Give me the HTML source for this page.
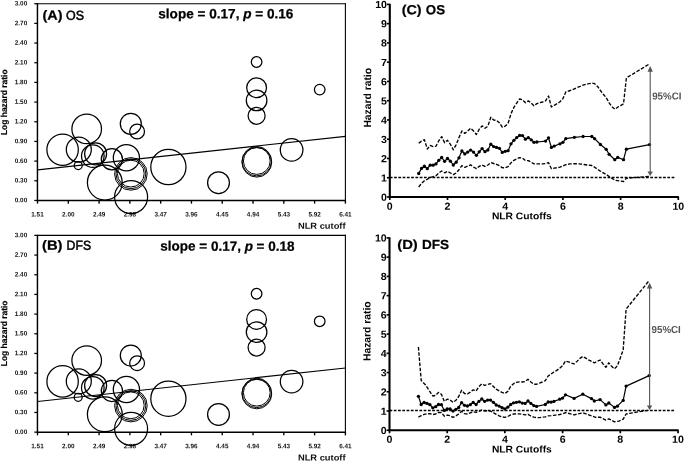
<!DOCTYPE html>
<html lang="en"><head><meta charset="utf-8"><title>NLR cutoff analysis</title>
<style>
html,body{margin:0;padding:0;background:#fff;}
body{width:685px;height:461px;overflow:hidden;}
svg{display:block;}
text{font-family:"Liberation Sans", Arial, Helvetica, sans-serif;fill:#111;}
.tk{font-size:6.5px;font-weight:bold;}
.tk2{font-size:10.3px;font-weight:bold;fill:#000;}
.axl{font-size:8.6px;font-weight:bold;}
.axl2{font-size:9.7px;font-weight:bold;fill:#000;}
.axl4{font-size:8.7px;font-weight:bold;fill:#000;stroke:#000;stroke-width:0.15px;}
.axl3{font-size:10.4px;font-weight:bold;fill:#000;}
.ttl{font-size:13.4px;font-weight:bold;fill:#000;stroke:#000;stroke-width:0.25px;}
.ttl2{font-size:13px;font-weight:normal;fill:#000;stroke:#000;stroke-width:0.5px;}
.ttl3{font-size:13.2px;font-weight:bold;fill:#000;stroke:#000;stroke-width:0.2px;}
.ci{font-size:10.2px;font-weight:bold;fill:#555;}
.dash{fill:none;stroke:#000;stroke-width:1.35;stroke-dasharray:3.6 1.6;stroke-linejoin:round;}
.ctr{fill:none;stroke:#000;stroke-width:1.2;stroke-linejoin:round;}
</style></head>
<body>
<svg width="685" height="461" viewBox="0 0 685 461">
<rect x="0" y="0" width="685" height="461" fill="#fff"/>
<line x1="37.45" y1="3.15" x2="37.45" y2="201.20" stroke="#000" stroke-width="1.45"/>
<line x1="36.8" y1="200.45" x2="345.95" y2="200.45" stroke="#000" stroke-width="1.5"/>
<line x1="36.8" y1="3.70" x2="345.95" y2="3.70" stroke="#000" stroke-width="1.1"/>
<line x1="345.4" y1="3.15" x2="345.4" y2="201.20" stroke="#000" stroke-width="1.1"/>
<line x1="34.3" y1="3.70" x2="37.5" y2="3.70" stroke="#000" stroke-width="1.25"/>
<text transform="translate(27.20 5.50) rotate(0.03)" class="tk" text-anchor="end" textLength="12.4" lengthAdjust="spacingAndGlyphs">3.00</text>
<line x1="34.3" y1="23.38" x2="37.5" y2="23.38" stroke="#000" stroke-width="1.25"/>
<text transform="translate(27.20 25.18) rotate(0.03)" class="tk" text-anchor="end" textLength="12.4" lengthAdjust="spacingAndGlyphs">2.70</text>
<line x1="34.3" y1="43.05" x2="37.5" y2="43.05" stroke="#000" stroke-width="1.25"/>
<text transform="translate(27.20 44.85) rotate(0.03)" class="tk" text-anchor="end" textLength="12.4" lengthAdjust="spacingAndGlyphs">2.40</text>
<line x1="34.3" y1="62.73" x2="37.5" y2="62.73" stroke="#000" stroke-width="1.25"/>
<text transform="translate(27.20 64.53) rotate(0.03)" class="tk" text-anchor="end" textLength="12.4" lengthAdjust="spacingAndGlyphs">2.10</text>
<line x1="34.3" y1="82.40" x2="37.5" y2="82.40" stroke="#000" stroke-width="1.25"/>
<text transform="translate(27.20 84.20) rotate(0.03)" class="tk" text-anchor="end" textLength="12.4" lengthAdjust="spacingAndGlyphs">1.80</text>
<line x1="34.3" y1="102.08" x2="37.5" y2="102.08" stroke="#000" stroke-width="1.25"/>
<text transform="translate(27.20 103.88) rotate(0.03)" class="tk" text-anchor="end" textLength="12.4" lengthAdjust="spacingAndGlyphs">1.50</text>
<line x1="34.3" y1="121.75" x2="37.5" y2="121.75" stroke="#000" stroke-width="1.25"/>
<text transform="translate(27.20 123.55) rotate(0.03)" class="tk" text-anchor="end" textLength="12.4" lengthAdjust="spacingAndGlyphs">1.20</text>
<line x1="34.3" y1="141.42" x2="37.5" y2="141.42" stroke="#000" stroke-width="1.25"/>
<text transform="translate(27.20 143.22) rotate(0.03)" class="tk" text-anchor="end" textLength="12.4" lengthAdjust="spacingAndGlyphs">0.90</text>
<line x1="34.3" y1="161.10" x2="37.5" y2="161.10" stroke="#000" stroke-width="1.25"/>
<text transform="translate(27.20 162.90) rotate(0.03)" class="tk" text-anchor="end" textLength="12.4" lengthAdjust="spacingAndGlyphs">0.60</text>
<line x1="34.3" y1="180.78" x2="37.5" y2="180.78" stroke="#000" stroke-width="1.25"/>
<text transform="translate(27.20 182.58) rotate(0.03)" class="tk" text-anchor="end" textLength="12.4" lengthAdjust="spacingAndGlyphs">0.30</text>
<line x1="34.3" y1="200.45" x2="37.5" y2="200.45" stroke="#000" stroke-width="1.25"/>
<text transform="translate(27.20 202.25) rotate(0.03)" class="tk" text-anchor="end" textLength="12.4" lengthAdjust="spacingAndGlyphs">0.00</text>
<line x1="37.50" y1="200.45" x2="37.50" y2="203.65" stroke="#000" stroke-width="1.35"/>
<text transform="translate(37.50 216.55) rotate(0.03)" class="tk" text-anchor="middle" textLength="12.4" lengthAdjust="spacingAndGlyphs">1.51</text>
<line x1="68.29" y1="200.45" x2="68.29" y2="203.65" stroke="#000" stroke-width="1.35"/>
<text transform="translate(68.29 216.55) rotate(0.03)" class="tk" text-anchor="middle" textLength="12.4" lengthAdjust="spacingAndGlyphs">2.00</text>
<line x1="99.08" y1="200.45" x2="99.08" y2="203.65" stroke="#000" stroke-width="1.35"/>
<text transform="translate(99.08 216.55) rotate(0.03)" class="tk" text-anchor="middle" textLength="12.4" lengthAdjust="spacingAndGlyphs">2.49</text>
<line x1="129.87" y1="200.45" x2="129.87" y2="203.65" stroke="#000" stroke-width="1.35"/>
<text transform="translate(129.87 216.55) rotate(0.03)" class="tk" text-anchor="middle" textLength="12.4" lengthAdjust="spacingAndGlyphs">2.98</text>
<line x1="160.66" y1="200.45" x2="160.66" y2="203.65" stroke="#000" stroke-width="1.35"/>
<text transform="translate(160.66 216.55) rotate(0.03)" class="tk" text-anchor="middle" textLength="12.4" lengthAdjust="spacingAndGlyphs">3.47</text>
<line x1="191.45" y1="200.45" x2="191.45" y2="203.65" stroke="#000" stroke-width="1.35"/>
<text transform="translate(191.45 216.55) rotate(0.03)" class="tk" text-anchor="middle" textLength="12.4" lengthAdjust="spacingAndGlyphs">3.96</text>
<line x1="222.24" y1="200.45" x2="222.24" y2="203.65" stroke="#000" stroke-width="1.35"/>
<text transform="translate(222.24 216.55) rotate(0.03)" class="tk" text-anchor="middle" textLength="12.4" lengthAdjust="spacingAndGlyphs">4.45</text>
<line x1="253.03" y1="200.45" x2="253.03" y2="203.65" stroke="#000" stroke-width="1.35"/>
<text transform="translate(253.03 216.55) rotate(0.03)" class="tk" text-anchor="middle" textLength="12.4" lengthAdjust="spacingAndGlyphs">4.94</text>
<line x1="283.82" y1="200.45" x2="283.82" y2="203.65" stroke="#000" stroke-width="1.35"/>
<text transform="translate(283.82 216.55) rotate(0.03)" class="tk" text-anchor="middle" textLength="12.4" lengthAdjust="spacingAndGlyphs">5.43</text>
<line x1="314.61" y1="200.45" x2="314.61" y2="203.65" stroke="#000" stroke-width="1.35"/>
<text transform="translate(314.61 216.55) rotate(0.03)" class="tk" text-anchor="middle" textLength="12.4" lengthAdjust="spacingAndGlyphs">5.92</text>
<line x1="345.40" y1="200.45" x2="345.40" y2="203.65" stroke="#000" stroke-width="1.35"/>
<text transform="translate(345.40 216.55) rotate(0.03)" class="tk" text-anchor="middle" textLength="12.4" lengthAdjust="spacingAndGlyphs">6.41</text>
<text transform="translate(297.90 228.80) rotate(0.03)" class="axl" textLength="47.7" lengthAdjust="spacingAndGlyphs">NLR cutoff</text>
<text transform="translate(7.10 135.10) rotate(-89.97)" class="axl4" textLength="65.7" lengthAdjust="spacingAndGlyphs">Log hazard ratio</text>
<text transform="translate(42.50 19.70) rotate(0.03)" class="ttl" textLength="20" lengthAdjust="spacingAndGlyphs">(A)</text>
<text transform="translate(66.00 19.70) rotate(0.03)" class="ttl2" textLength="18.0" lengthAdjust="spacingAndGlyphs">OS</text>
<text transform="translate(158.30 18.20) rotate(0.03)" class="ttl" textLength="135.1" lengthAdjust="spacingAndGlyphs">slope = 0.17, <tspan font-style="italic">p</tspan> = 0.16</text>
<line x1="37.7" y1="169.80" x2="345.4" y2="136.30" stroke="#000" stroke-width="1.2"/>
<circle cx="256.6" cy="62.00" r="5.3" fill="none" stroke="#000" stroke-width="1.25"/>
<circle cx="256.6" cy="87.70" r="9.9" fill="none" stroke="#000" stroke-width="1.25"/>
<circle cx="256.6" cy="100.40" r="10.3" fill="none" stroke="#000" stroke-width="1.25"/>
<circle cx="256.6" cy="115.80" r="8.5" fill="none" stroke="#000" stroke-width="1.25"/>
<circle cx="319.7" cy="89.60" r="5.3" fill="none" stroke="#000" stroke-width="1.25"/>
<circle cx="130.8" cy="123.80" r="10.5" fill="none" stroke="#000" stroke-width="1.25"/>
<circle cx="137.1" cy="131.50" r="7.4" fill="none" stroke="#000" stroke-width="1.25"/>
<circle cx="86.7" cy="128.90" r="14.8" fill="none" stroke="#000" stroke-width="1.25"/>
<circle cx="62.6" cy="149.70" r="15.7" fill="none" stroke="#000" stroke-width="1.25"/>
<circle cx="78.8" cy="149.60" r="12.5" fill="none" stroke="#000" stroke-width="1.25"/>
<circle cx="78.2" cy="165.60" r="4.0" fill="none" stroke="#000" stroke-width="1.25"/>
<circle cx="92.8" cy="156.10" r="11.3" fill="none" stroke="#000" stroke-width="1.25"/>
<circle cx="95.6" cy="153.80" r="11.0" fill="none" stroke="#000" stroke-width="1.25"/>
<circle cx="111.9" cy="159.20" r="10.6" fill="none" stroke="#000" stroke-width="1.25"/>
<circle cx="126.4" cy="157.80" r="13.1" fill="none" stroke="#000" stroke-width="1.25"/>
<circle cx="104.8" cy="182.60" r="17.4" fill="none" stroke="#000" stroke-width="1.25"/>
<circle cx="130.9" cy="173.90" r="16.3" fill="none" stroke="#000" stroke-width="1.0"/>
<circle cx="130.9" cy="173.80" r="14.9" fill="none" stroke="#000" stroke-width="1.0"/>
<circle cx="130.8" cy="173.60" r="13.4" fill="none" stroke="#000" stroke-width="1.0"/>
<circle cx="131.1" cy="197.10" r="16.5" fill="none" stroke="#000" stroke-width="1.25"/>
<circle cx="168.4" cy="167.00" r="17.6" fill="none" stroke="#000" stroke-width="1.25"/>
<circle cx="218.5" cy="182.70" r="10.9" fill="none" stroke="#000" stroke-width="1.25"/>
<circle cx="256.8" cy="161.20" r="14.7" fill="none" stroke="#000" stroke-width="1.0"/>
<circle cx="256.8" cy="162.20" r="14.9" fill="none" stroke="#000" stroke-width="1.0"/>
<circle cx="256.8" cy="161.00" r="13.4" fill="none" stroke="#000" stroke-width="1.0"/>
<circle cx="291.6" cy="149.90" r="11.3" fill="none" stroke="#000" stroke-width="1.25"/>
<line x1="37.45" y1="234.85" x2="37.45" y2="432.90" stroke="#000" stroke-width="1.45"/>
<line x1="36.8" y1="432.15" x2="345.95" y2="432.15" stroke="#000" stroke-width="1.5"/>
<line x1="36.8" y1="235.40" x2="345.95" y2="235.40" stroke="#000" stroke-width="1.1"/>
<line x1="345.4" y1="234.85" x2="345.4" y2="432.90" stroke="#000" stroke-width="1.1"/>
<line x1="34.3" y1="235.40" x2="37.5" y2="235.40" stroke="#000" stroke-width="1.25"/>
<text transform="translate(27.20 237.20) rotate(0.03)" class="tk" text-anchor="end" textLength="12.4" lengthAdjust="spacingAndGlyphs">3.00</text>
<line x1="34.3" y1="255.07" x2="37.5" y2="255.07" stroke="#000" stroke-width="1.25"/>
<text transform="translate(27.20 256.88) rotate(0.03)" class="tk" text-anchor="end" textLength="12.4" lengthAdjust="spacingAndGlyphs">2.70</text>
<line x1="34.3" y1="274.75" x2="37.5" y2="274.75" stroke="#000" stroke-width="1.25"/>
<text transform="translate(27.20 276.55) rotate(0.03)" class="tk" text-anchor="end" textLength="12.4" lengthAdjust="spacingAndGlyphs">2.40</text>
<line x1="34.3" y1="294.42" x2="37.5" y2="294.42" stroke="#000" stroke-width="1.25"/>
<text transform="translate(27.20 296.22) rotate(0.03)" class="tk" text-anchor="end" textLength="12.4" lengthAdjust="spacingAndGlyphs">2.10</text>
<line x1="34.3" y1="314.10" x2="37.5" y2="314.10" stroke="#000" stroke-width="1.25"/>
<text transform="translate(27.20 315.90) rotate(0.03)" class="tk" text-anchor="end" textLength="12.4" lengthAdjust="spacingAndGlyphs">1.80</text>
<line x1="34.3" y1="333.77" x2="37.5" y2="333.77" stroke="#000" stroke-width="1.25"/>
<text transform="translate(27.20 335.57) rotate(0.03)" class="tk" text-anchor="end" textLength="12.4" lengthAdjust="spacingAndGlyphs">1.50</text>
<line x1="34.3" y1="353.45" x2="37.5" y2="353.45" stroke="#000" stroke-width="1.25"/>
<text transform="translate(27.20 355.25) rotate(0.03)" class="tk" text-anchor="end" textLength="12.4" lengthAdjust="spacingAndGlyphs">1.20</text>
<line x1="34.3" y1="373.12" x2="37.5" y2="373.12" stroke="#000" stroke-width="1.25"/>
<text transform="translate(27.20 374.93) rotate(0.03)" class="tk" text-anchor="end" textLength="12.4" lengthAdjust="spacingAndGlyphs">0.90</text>
<line x1="34.3" y1="392.80" x2="37.5" y2="392.80" stroke="#000" stroke-width="1.25"/>
<text transform="translate(27.20 394.60) rotate(0.03)" class="tk" text-anchor="end" textLength="12.4" lengthAdjust="spacingAndGlyphs">0.60</text>
<line x1="34.3" y1="412.48" x2="37.5" y2="412.48" stroke="#000" stroke-width="1.25"/>
<text transform="translate(27.20 414.28) rotate(0.03)" class="tk" text-anchor="end" textLength="12.4" lengthAdjust="spacingAndGlyphs">0.30</text>
<line x1="34.3" y1="432.15" x2="37.5" y2="432.15" stroke="#000" stroke-width="1.25"/>
<text transform="translate(27.20 433.95) rotate(0.03)" class="tk" text-anchor="end" textLength="12.4" lengthAdjust="spacingAndGlyphs">0.00</text>
<line x1="37.50" y1="432.15" x2="37.50" y2="435.35" stroke="#000" stroke-width="1.35"/>
<text transform="translate(37.50 448.25) rotate(0.03)" class="tk" text-anchor="middle" textLength="12.4" lengthAdjust="spacingAndGlyphs">1.51</text>
<line x1="68.29" y1="432.15" x2="68.29" y2="435.35" stroke="#000" stroke-width="1.35"/>
<text transform="translate(68.29 448.25) rotate(0.03)" class="tk" text-anchor="middle" textLength="12.4" lengthAdjust="spacingAndGlyphs">2.00</text>
<line x1="99.08" y1="432.15" x2="99.08" y2="435.35" stroke="#000" stroke-width="1.35"/>
<text transform="translate(99.08 448.25) rotate(0.03)" class="tk" text-anchor="middle" textLength="12.4" lengthAdjust="spacingAndGlyphs">2.49</text>
<line x1="129.87" y1="432.15" x2="129.87" y2="435.35" stroke="#000" stroke-width="1.35"/>
<text transform="translate(129.87 448.25) rotate(0.03)" class="tk" text-anchor="middle" textLength="12.4" lengthAdjust="spacingAndGlyphs">2.98</text>
<line x1="160.66" y1="432.15" x2="160.66" y2="435.35" stroke="#000" stroke-width="1.35"/>
<text transform="translate(160.66 448.25) rotate(0.03)" class="tk" text-anchor="middle" textLength="12.4" lengthAdjust="spacingAndGlyphs">3.47</text>
<line x1="191.45" y1="432.15" x2="191.45" y2="435.35" stroke="#000" stroke-width="1.35"/>
<text transform="translate(191.45 448.25) rotate(0.03)" class="tk" text-anchor="middle" textLength="12.4" lengthAdjust="spacingAndGlyphs">3.96</text>
<line x1="222.24" y1="432.15" x2="222.24" y2="435.35" stroke="#000" stroke-width="1.35"/>
<text transform="translate(222.24 448.25) rotate(0.03)" class="tk" text-anchor="middle" textLength="12.4" lengthAdjust="spacingAndGlyphs">4.45</text>
<line x1="253.03" y1="432.15" x2="253.03" y2="435.35" stroke="#000" stroke-width="1.35"/>
<text transform="translate(253.03 448.25) rotate(0.03)" class="tk" text-anchor="middle" textLength="12.4" lengthAdjust="spacingAndGlyphs">4.94</text>
<line x1="283.82" y1="432.15" x2="283.82" y2="435.35" stroke="#000" stroke-width="1.35"/>
<text transform="translate(283.82 448.25) rotate(0.03)" class="tk" text-anchor="middle" textLength="12.4" lengthAdjust="spacingAndGlyphs">5.43</text>
<line x1="314.61" y1="432.15" x2="314.61" y2="435.35" stroke="#000" stroke-width="1.35"/>
<text transform="translate(314.61 448.25) rotate(0.03)" class="tk" text-anchor="middle" textLength="12.4" lengthAdjust="spacingAndGlyphs">5.92</text>
<line x1="345.40" y1="432.15" x2="345.40" y2="435.35" stroke="#000" stroke-width="1.35"/>
<text transform="translate(345.40 448.25) rotate(0.03)" class="tk" text-anchor="middle" textLength="12.4" lengthAdjust="spacingAndGlyphs">6.41</text>
<text transform="translate(297.90 460.50) rotate(0.03)" class="axl" textLength="47.7" lengthAdjust="spacingAndGlyphs">NLR cutoff</text>
<text transform="translate(7.10 366.20) rotate(-89.97)" class="axl4" textLength="65.7" lengthAdjust="spacingAndGlyphs">Log hazard ratio</text>
<text transform="translate(42.00 249.70) rotate(0.03)" class="ttl" textLength="20.5" lengthAdjust="spacingAndGlyphs">(B)</text>
<text transform="translate(66.60 249.70) rotate(0.03)" class="ttl2" textLength="24.5" lengthAdjust="spacingAndGlyphs">DFS</text>
<text transform="translate(160.30 250.60) rotate(0.03)" class="ttl" textLength="134.2" lengthAdjust="spacingAndGlyphs">slope = 0.17, <tspan font-style="italic">p</tspan> = 0.18</text>
<line x1="37.7" y1="401.50" x2="345.4" y2="368.00" stroke="#000" stroke-width="1.2"/>
<circle cx="256.6" cy="293.70" r="5.3" fill="none" stroke="#000" stroke-width="1.25"/>
<circle cx="256.6" cy="319.40" r="9.9" fill="none" stroke="#000" stroke-width="1.25"/>
<circle cx="256.6" cy="332.10" r="10.3" fill="none" stroke="#000" stroke-width="1.25"/>
<circle cx="256.6" cy="347.50" r="8.5" fill="none" stroke="#000" stroke-width="1.25"/>
<circle cx="319.7" cy="321.30" r="5.3" fill="none" stroke="#000" stroke-width="1.25"/>
<circle cx="130.8" cy="355.50" r="10.5" fill="none" stroke="#000" stroke-width="1.25"/>
<circle cx="137.1" cy="363.20" r="7.4" fill="none" stroke="#000" stroke-width="1.25"/>
<circle cx="86.7" cy="360.60" r="14.8" fill="none" stroke="#000" stroke-width="1.25"/>
<circle cx="62.6" cy="381.40" r="15.7" fill="none" stroke="#000" stroke-width="1.25"/>
<circle cx="78.8" cy="381.30" r="12.5" fill="none" stroke="#000" stroke-width="1.25"/>
<circle cx="78.2" cy="397.30" r="4.0" fill="none" stroke="#000" stroke-width="1.25"/>
<circle cx="92.8" cy="387.80" r="11.3" fill="none" stroke="#000" stroke-width="1.25"/>
<circle cx="95.6" cy="385.50" r="11.0" fill="none" stroke="#000" stroke-width="1.25"/>
<circle cx="111.9" cy="390.90" r="10.6" fill="none" stroke="#000" stroke-width="1.25"/>
<circle cx="126.4" cy="389.50" r="13.1" fill="none" stroke="#000" stroke-width="1.25"/>
<circle cx="104.8" cy="414.30" r="17.4" fill="none" stroke="#000" stroke-width="1.25"/>
<circle cx="130.9" cy="405.60" r="16.3" fill="none" stroke="#000" stroke-width="1.0"/>
<circle cx="130.9" cy="405.50" r="14.9" fill="none" stroke="#000" stroke-width="1.0"/>
<circle cx="130.8" cy="405.30" r="13.4" fill="none" stroke="#000" stroke-width="1.0"/>
<circle cx="131.1" cy="428.80" r="16.5" fill="none" stroke="#000" stroke-width="1.25"/>
<circle cx="168.4" cy="398.70" r="17.6" fill="none" stroke="#000" stroke-width="1.25"/>
<circle cx="218.5" cy="414.40" r="10.9" fill="none" stroke="#000" stroke-width="1.25"/>
<circle cx="256.8" cy="392.90" r="14.7" fill="none" stroke="#000" stroke-width="1.0"/>
<circle cx="256.8" cy="393.90" r="14.9" fill="none" stroke="#000" stroke-width="1.0"/>
<circle cx="256.8" cy="392.70" r="13.4" fill="none" stroke="#000" stroke-width="1.0"/>
<circle cx="291.6" cy="381.60" r="11.3" fill="none" stroke="#000" stroke-width="1.25"/>
<line x1="389.8" y1="3.80" x2="389.8" y2="198.00" stroke="#000" stroke-width="2.1"/>
<line x1="388.8" y1="197.00" x2="678.90" y2="197.00" stroke="#000" stroke-width="2.1"/>
<line x1="386.90000000000003" y1="4.40" x2="389.8" y2="4.40" stroke="#000" stroke-width="1.6"/>
<text transform="translate(387.00 8.10) rotate(0.03)" class="tk2" text-anchor="end" textLength="11.8" lengthAdjust="spacingAndGlyphs">10</text>
<line x1="386.90000000000003" y1="23.66" x2="389.8" y2="23.66" stroke="#000" stroke-width="1.6"/>
<text transform="translate(387.00 27.36) rotate(0.03)" class="tk2" text-anchor="end" textLength="5.9" lengthAdjust="spacingAndGlyphs">9</text>
<line x1="386.90000000000003" y1="42.92" x2="389.8" y2="42.92" stroke="#000" stroke-width="1.6"/>
<text transform="translate(387.00 46.62) rotate(0.03)" class="tk2" text-anchor="end" textLength="5.9" lengthAdjust="spacingAndGlyphs">8</text>
<line x1="386.90000000000003" y1="62.18" x2="389.8" y2="62.18" stroke="#000" stroke-width="1.6"/>
<text transform="translate(387.00 65.88) rotate(0.03)" class="tk2" text-anchor="end" textLength="5.9" lengthAdjust="spacingAndGlyphs">7</text>
<line x1="386.90000000000003" y1="81.44" x2="389.8" y2="81.44" stroke="#000" stroke-width="1.6"/>
<text transform="translate(387.00 85.14) rotate(0.03)" class="tk2" text-anchor="end" textLength="5.9" lengthAdjust="spacingAndGlyphs">6</text>
<line x1="386.90000000000003" y1="100.70" x2="389.8" y2="100.70" stroke="#000" stroke-width="1.6"/>
<text transform="translate(387.00 104.40) rotate(0.03)" class="tk2" text-anchor="end" textLength="5.9" lengthAdjust="spacingAndGlyphs">5</text>
<line x1="386.90000000000003" y1="119.96" x2="389.8" y2="119.96" stroke="#000" stroke-width="1.6"/>
<text transform="translate(387.00 123.66) rotate(0.03)" class="tk2" text-anchor="end" textLength="5.9" lengthAdjust="spacingAndGlyphs">4</text>
<line x1="386.90000000000003" y1="139.22" x2="389.8" y2="139.22" stroke="#000" stroke-width="1.6"/>
<text transform="translate(387.00 142.92) rotate(0.03)" class="tk2" text-anchor="end" textLength="5.9" lengthAdjust="spacingAndGlyphs">3</text>
<line x1="386.90000000000003" y1="158.48" x2="389.8" y2="158.48" stroke="#000" stroke-width="1.6"/>
<text transform="translate(387.00 162.18) rotate(0.03)" class="tk2" text-anchor="end" textLength="5.9" lengthAdjust="spacingAndGlyphs">2</text>
<line x1="386.90000000000003" y1="177.74" x2="389.8" y2="177.74" stroke="#000" stroke-width="1.6"/>
<text transform="translate(387.00 181.44) rotate(0.03)" class="tk2" text-anchor="end" textLength="5.9" lengthAdjust="spacingAndGlyphs">1</text>
<line x1="386.90000000000003" y1="197.00" x2="389.8" y2="197.00" stroke="#000" stroke-width="1.6"/>
<text transform="translate(387.00 200.70) rotate(0.03)" class="tk2" text-anchor="end" textLength="5.9" lengthAdjust="spacingAndGlyphs">0</text>
<line x1="389.80" y1="197.00" x2="389.80" y2="200.00" stroke="#000" stroke-width="1.7"/>
<text transform="translate(389.80 209.70) rotate(0.03)" class="tk2" text-anchor="middle" textLength="5.9" lengthAdjust="spacingAndGlyphs">0</text>
<line x1="447.50" y1="197.00" x2="447.50" y2="200.00" stroke="#000" stroke-width="1.7"/>
<text transform="translate(447.50 209.70) rotate(0.03)" class="tk2" text-anchor="middle" textLength="5.9" lengthAdjust="spacingAndGlyphs">2</text>
<line x1="505.20" y1="197.00" x2="505.20" y2="200.00" stroke="#000" stroke-width="1.7"/>
<text transform="translate(505.20 209.70) rotate(0.03)" class="tk2" text-anchor="middle" textLength="5.9" lengthAdjust="spacingAndGlyphs">4</text>
<line x1="562.90" y1="197.00" x2="562.90" y2="200.00" stroke="#000" stroke-width="1.7"/>
<text transform="translate(562.90 209.70) rotate(0.03)" class="tk2" text-anchor="middle" textLength="5.9" lengthAdjust="spacingAndGlyphs">6</text>
<line x1="620.60" y1="197.00" x2="620.60" y2="200.00" stroke="#000" stroke-width="1.7"/>
<text transform="translate(620.60 209.70) rotate(0.03)" class="tk2" text-anchor="middle" textLength="5.9" lengthAdjust="spacingAndGlyphs">8</text>
<line x1="678.30" y1="197.00" x2="678.30" y2="200.00" stroke="#000" stroke-width="1.7"/>
<text transform="translate(678.30 209.70) rotate(0.03)" class="tk2" text-anchor="middle" textLength="11.8" lengthAdjust="spacingAndGlyphs">10</text>
<text transform="translate(491.90 219.20) rotate(0.03)" class="axl2" textLength="59.9" lengthAdjust="spacingAndGlyphs">NLR Cutoffs</text>
<text transform="translate(371.10 127.60) rotate(-89.97)" class="axl3" textLength="59.6" lengthAdjust="spacingAndGlyphs">Hazard ratio</text>
<text transform="translate(401.70 14.30) rotate(0.03)" class="ttl3" textLength="19.9" lengthAdjust="spacingAndGlyphs">(C)</text>
<text transform="translate(425.80 14.30) rotate(0.03)" class="ttl3" textLength="19.2" lengthAdjust="spacingAndGlyphs">OS</text>
<line x1="389.8" y1="177.5" x2="675.2" y2="177.5" stroke="#000" stroke-width="1.3" stroke-dasharray="2.75 1.52"/>
<polyline points="418.7,143.2 421.5,141.1 424.4,139.7 427.3,149.0 430.2,145.4 433.1,146.6 436.0,146.1 438.8,140.8 441.7,136.6 444.6,142.7 447.5,140.3 450.4,144.3 453.3,149.8 456.2,144.6 459.0,137.5 461.9,130.9 464.8,133.4 467.7,130.9 470.6,128.2 473.5,130.9 476.4,134.5 479.2,129.3 482.1,125.9 485.0,128.2 487.9,126.1 490.8,117.3 493.7,120.0 496.5,120.4 499.4,122.8 502.3,127.2 505.2,126.1 508.1,123.3 511.0,113.7 513.9,107.4 516.7,103.1 519.6,99.0 522.5,99.8 525.4,102.7 528.3,100.9 531.2,103.1 534.0,105.8 536.9,103.6 539.8,102.7 542.7,102.0 545.6,100.9 548.5,96.0 551.4,107.0 554.2,105.3 557.1,103.7 560.0,101.8 562.9,98.7 565.8,91.9 568.7,91.0 571.6,90.0 574.4,88.8 577.3,87.5 580.2,86.4 583.1,85.1 586.0,84.2 588.9,83.7 591.8,83.1 594.6,83.7 597.5,86.4 600.4,90.5 603.3,94.3 606.2,97.6 609.1,102.8 611.9,106.6 614.8,109.2 617.7,107.2 620.6,105.6 623.5,103.8 626.4,77.9 649.5,63.9" class="dash" />
<polyline points="418.7,187.0 421.5,183.4 424.4,180.7 427.3,179.3 430.2,177.4 433.1,176.6 436.0,175.7 438.8,173.0 441.7,171.0 444.6,172.8 447.5,171.4 450.4,173.0 453.3,174.6 456.2,173.0 459.0,169.7 461.9,165.7 464.8,167.3 467.7,166.2 470.6,164.8 473.5,167.0 476.4,168.6 479.2,166.4 482.1,165.0 485.0,166.4 487.9,165.0 490.8,162.6 493.7,163.5 496.5,164.4 499.4,165.7 502.3,167.7 505.2,167.7 508.1,166.6 511.0,162.8 513.9,160.3 516.7,158.9 519.6,157.6 522.5,158.1 525.4,160.6 528.3,160.6 531.2,162.2 534.0,163.9 536.9,163.9 539.8,163.9 542.7,163.9 545.6,163.5 548.5,162.6 551.4,168.7 554.2,168.2 560.0,167.2 562.9,166.0 565.8,164.6 570.1,163.9 575.9,163.7 581.7,164.2 587.4,165.0 591.8,165.5 594.6,167.2 600.4,171.2 606.2,174.4 609.1,176.5 614.8,180.2 623.5,181.5 626.4,178.3 649.5,176.3" class="dash" />
<polyline points="418.7,173.5 421.5,168.4 424.4,166.2 427.3,168.7 430.2,165.2 433.1,165.2 436.0,163.9 438.8,160.3 441.7,157.5 444.6,161.3 447.5,158.5 450.4,161.2 453.3,165.0 456.2,162.2 459.0,157.8 461.9,151.0 464.8,153.9 467.7,152.1 470.6,150.1 473.5,152.1 476.4,155.3 479.2,151.8 482.1,148.6 485.0,151.7 487.9,150.0 490.8,144.2 493.7,146.6 496.5,147.4 499.4,148.3 502.3,152.4 505.2,151.3 508.1,150.7 511.0,143.8 513.9,140.3 516.7,137.6 519.6,135.4 522.5,135.6 525.4,139.2 528.3,137.6 531.2,139.8 534.0,142.3 536.9,142.0 545.6,141.1 548.5,137.8 551.4,147.4 554.2,146.1 560.0,143.8 562.9,142.3 565.8,138.7 574.4,137.3 583.1,136.5 591.8,136.5 594.6,138.7 600.4,144.5 606.2,149.3 609.1,154.3 614.8,159.7 617.7,157.4 623.5,159.7 626.4,149.2 649.5,144.6" class="ctr" />
<circle cx="418.7" cy="173.5" r="1.65" fill="#000"/>
<circle cx="421.5" cy="168.4" r="1.65" fill="#000"/>
<circle cx="424.4" cy="166.2" r="1.65" fill="#000"/>
<circle cx="427.3" cy="168.7" r="1.65" fill="#000"/>
<circle cx="430.2" cy="165.2" r="1.65" fill="#000"/>
<circle cx="433.1" cy="165.2" r="1.65" fill="#000"/>
<circle cx="436.0" cy="163.9" r="1.65" fill="#000"/>
<circle cx="438.8" cy="160.3" r="1.65" fill="#000"/>
<circle cx="441.7" cy="157.5" r="1.65" fill="#000"/>
<circle cx="444.6" cy="161.3" r="1.65" fill="#000"/>
<circle cx="447.5" cy="158.5" r="1.65" fill="#000"/>
<circle cx="450.4" cy="161.2" r="1.65" fill="#000"/>
<circle cx="453.3" cy="165.0" r="1.65" fill="#000"/>
<circle cx="456.2" cy="162.2" r="1.65" fill="#000"/>
<circle cx="459.0" cy="157.8" r="1.65" fill="#000"/>
<circle cx="461.9" cy="151.0" r="1.65" fill="#000"/>
<circle cx="464.8" cy="153.9" r="1.65" fill="#000"/>
<circle cx="467.7" cy="152.1" r="1.65" fill="#000"/>
<circle cx="470.6" cy="150.1" r="1.65" fill="#000"/>
<circle cx="473.5" cy="152.1" r="1.65" fill="#000"/>
<circle cx="476.4" cy="155.3" r="1.65" fill="#000"/>
<circle cx="479.2" cy="151.8" r="1.65" fill="#000"/>
<circle cx="482.1" cy="148.6" r="1.65" fill="#000"/>
<circle cx="485.0" cy="151.7" r="1.65" fill="#000"/>
<circle cx="487.9" cy="150.0" r="1.65" fill="#000"/>
<circle cx="490.8" cy="144.2" r="1.65" fill="#000"/>
<circle cx="493.7" cy="146.6" r="1.65" fill="#000"/>
<circle cx="496.5" cy="147.4" r="1.65" fill="#000"/>
<circle cx="499.4" cy="148.3" r="1.65" fill="#000"/>
<circle cx="502.3" cy="152.4" r="1.65" fill="#000"/>
<circle cx="505.2" cy="151.3" r="1.65" fill="#000"/>
<circle cx="508.1" cy="150.7" r="1.65" fill="#000"/>
<circle cx="511.0" cy="143.8" r="1.65" fill="#000"/>
<circle cx="513.9" cy="140.3" r="1.65" fill="#000"/>
<circle cx="516.7" cy="137.6" r="1.65" fill="#000"/>
<circle cx="519.6" cy="135.4" r="1.65" fill="#000"/>
<circle cx="522.5" cy="135.6" r="1.65" fill="#000"/>
<circle cx="525.4" cy="139.2" r="1.65" fill="#000"/>
<circle cx="528.3" cy="137.6" r="1.65" fill="#000"/>
<circle cx="531.2" cy="139.8" r="1.65" fill="#000"/>
<circle cx="534.0" cy="142.3" r="1.65" fill="#000"/>
<circle cx="536.9" cy="142.0" r="1.65" fill="#000"/>
<circle cx="545.6" cy="141.1" r="1.65" fill="#000"/>
<circle cx="548.5" cy="137.8" r="1.65" fill="#000"/>
<circle cx="551.4" cy="147.4" r="1.65" fill="#000"/>
<circle cx="554.2" cy="146.1" r="1.65" fill="#000"/>
<circle cx="560.0" cy="143.8" r="1.65" fill="#000"/>
<circle cx="562.9" cy="142.3" r="1.65" fill="#000"/>
<circle cx="565.8" cy="138.7" r="1.65" fill="#000"/>
<circle cx="574.4" cy="137.3" r="1.65" fill="#000"/>
<circle cx="583.1" cy="136.5" r="1.65" fill="#000"/>
<circle cx="591.8" cy="136.5" r="1.65" fill="#000"/>
<circle cx="594.6" cy="138.7" r="1.65" fill="#000"/>
<circle cx="600.4" cy="144.5" r="1.65" fill="#000"/>
<circle cx="606.2" cy="149.3" r="1.65" fill="#000"/>
<circle cx="609.1" cy="154.3" r="1.65" fill="#000"/>
<circle cx="614.8" cy="159.7" r="1.65" fill="#000"/>
<circle cx="617.7" cy="157.4" r="1.65" fill="#000"/>
<circle cx="623.5" cy="159.7" r="1.65" fill="#000"/>
<circle cx="626.4" cy="149.2" r="1.65" fill="#000"/>
<circle cx="649.5" cy="144.6" r="1.65" fill="#000"/>
<line x1="650.2" y1="70.1" x2="650.2" y2="172.0" stroke="#555" stroke-width="1.1"/>
<polygon points="650.2,66.1 647.5,71.69999999999999 652.9000000000001,71.69999999999999" fill="#555"/>
<polygon points="650.2,176.0 647.5,171.4 652.9000000000001,171.4" fill="#555"/>
<text transform="translate(652.20 99.50) rotate(0.03)" class="ci" textLength="29.2" lengthAdjust="spacingAndGlyphs">95%CI</text>
<line x1="389.5" y1="237.30" x2="389.5" y2="431.25" stroke="#000" stroke-width="2.1"/>
<line x1="388.5" y1="430.25" x2="678.60" y2="430.25" stroke="#000" stroke-width="2.1"/>
<line x1="386.6" y1="237.90" x2="389.5" y2="237.90" stroke="#000" stroke-width="1.6"/>
<text transform="translate(386.70 241.60) rotate(0.03)" class="tk2" text-anchor="end" textLength="11.8" lengthAdjust="spacingAndGlyphs">10</text>
<line x1="386.6" y1="257.13" x2="389.5" y2="257.13" stroke="#000" stroke-width="1.6"/>
<text transform="translate(386.70 260.83) rotate(0.03)" class="tk2" text-anchor="end" textLength="5.9" lengthAdjust="spacingAndGlyphs">9</text>
<line x1="386.6" y1="276.37" x2="389.5" y2="276.37" stroke="#000" stroke-width="1.6"/>
<text transform="translate(386.70 280.07) rotate(0.03)" class="tk2" text-anchor="end" textLength="5.9" lengthAdjust="spacingAndGlyphs">8</text>
<line x1="386.6" y1="295.61" x2="389.5" y2="295.61" stroke="#000" stroke-width="1.6"/>
<text transform="translate(386.70 299.31) rotate(0.03)" class="tk2" text-anchor="end" textLength="5.9" lengthAdjust="spacingAndGlyphs">7</text>
<line x1="386.6" y1="314.84" x2="389.5" y2="314.84" stroke="#000" stroke-width="1.6"/>
<text transform="translate(386.70 318.54) rotate(0.03)" class="tk2" text-anchor="end" textLength="5.9" lengthAdjust="spacingAndGlyphs">6</text>
<line x1="386.6" y1="334.07" x2="389.5" y2="334.07" stroke="#000" stroke-width="1.6"/>
<text transform="translate(386.70 337.77) rotate(0.03)" class="tk2" text-anchor="end" textLength="5.9" lengthAdjust="spacingAndGlyphs">5</text>
<line x1="386.6" y1="353.31" x2="389.5" y2="353.31" stroke="#000" stroke-width="1.6"/>
<text transform="translate(386.70 357.01) rotate(0.03)" class="tk2" text-anchor="end" textLength="5.9" lengthAdjust="spacingAndGlyphs">4</text>
<line x1="386.6" y1="372.54" x2="389.5" y2="372.54" stroke="#000" stroke-width="1.6"/>
<text transform="translate(386.70 376.24) rotate(0.03)" class="tk2" text-anchor="end" textLength="5.9" lengthAdjust="spacingAndGlyphs">3</text>
<line x1="386.6" y1="391.78" x2="389.5" y2="391.78" stroke="#000" stroke-width="1.6"/>
<text transform="translate(386.70 395.48) rotate(0.03)" class="tk2" text-anchor="end" textLength="5.9" lengthAdjust="spacingAndGlyphs">2</text>
<line x1="386.6" y1="411.01" x2="389.5" y2="411.01" stroke="#000" stroke-width="1.6"/>
<text transform="translate(386.70 414.71) rotate(0.03)" class="tk2" text-anchor="end" textLength="5.9" lengthAdjust="spacingAndGlyphs">1</text>
<line x1="386.6" y1="430.25" x2="389.5" y2="430.25" stroke="#000" stroke-width="1.6"/>
<text transform="translate(386.70 433.95) rotate(0.03)" class="tk2" text-anchor="end" textLength="5.9" lengthAdjust="spacingAndGlyphs">0</text>
<line x1="389.50" y1="430.25" x2="389.50" y2="433.25" stroke="#000" stroke-width="1.7"/>
<text transform="translate(389.50 442.80) rotate(0.03)" class="tk2" text-anchor="middle" textLength="5.9" lengthAdjust="spacingAndGlyphs">0</text>
<line x1="447.20" y1="430.25" x2="447.20" y2="433.25" stroke="#000" stroke-width="1.7"/>
<text transform="translate(447.20 442.80) rotate(0.03)" class="tk2" text-anchor="middle" textLength="5.9" lengthAdjust="spacingAndGlyphs">2</text>
<line x1="504.90" y1="430.25" x2="504.90" y2="433.25" stroke="#000" stroke-width="1.7"/>
<text transform="translate(504.90 442.80) rotate(0.03)" class="tk2" text-anchor="middle" textLength="5.9" lengthAdjust="spacingAndGlyphs">4</text>
<line x1="562.60" y1="430.25" x2="562.60" y2="433.25" stroke="#000" stroke-width="1.7"/>
<text transform="translate(562.60 442.80) rotate(0.03)" class="tk2" text-anchor="middle" textLength="5.9" lengthAdjust="spacingAndGlyphs">6</text>
<line x1="620.30" y1="430.25" x2="620.30" y2="433.25" stroke="#000" stroke-width="1.7"/>
<text transform="translate(620.30 442.80) rotate(0.03)" class="tk2" text-anchor="middle" textLength="5.9" lengthAdjust="spacingAndGlyphs">8</text>
<line x1="678.00" y1="430.25" x2="678.00" y2="433.25" stroke="#000" stroke-width="1.7"/>
<text transform="translate(678.00 442.80) rotate(0.03)" class="tk2" text-anchor="middle" textLength="11.8" lengthAdjust="spacingAndGlyphs">10</text>
<text transform="translate(491.90 452.40) rotate(0.03)" class="axl2" textLength="59.9" lengthAdjust="spacingAndGlyphs">NLR Cutoffs</text>
<text transform="translate(370.50 360.97) rotate(-89.97)" class="axl3" textLength="59.6" lengthAdjust="spacingAndGlyphs">Hazard ratio</text>
<text transform="translate(397.20 249.10) rotate(0.03)" class="ttl3" textLength="20.6" lengthAdjust="spacingAndGlyphs">(D)</text>
<text transform="translate(421.90 249.10) rotate(0.03)" class="ttl3" textLength="27.1" lengthAdjust="spacingAndGlyphs">DFS</text>
<line x1="389.5" y1="410.5" x2="674.4" y2="410.5" stroke="#000" stroke-width="1.3" stroke-dasharray="2.75 1.52"/>
<polyline points="418.4,347.0 421.2,380.5 425.6,385.0 429.9,391.6 432.8,396.0 435.7,395.4 438.5,392.4 441.4,394.3 444.3,401.4 447.2,399.2 450.1,399.8 453.0,402.3 455.9,400.3 458.7,396.5 461.6,390.3 464.5,393.5 467.4,394.0 470.3,392.1 473.2,389.9 476.1,391.0 478.9,386.6 481.8,383.9 484.7,385.3 487.6,384.5 490.5,383.7 493.4,386.4 496.2,389.2 499.1,390.8 502.0,392.4 504.9,393.5 507.8,391.4 510.7,386.4 513.6,383.7 516.4,382.4 519.3,381.8 522.2,382.0 525.1,381.5 528.0,379.3 530.9,382.0 533.8,384.2 536.6,384.2 539.5,383.1 542.4,382.0 545.3,380.7 548.2,376.0 551.1,374.0 553.9,372.0 556.8,370.4 559.7,368.2 562.6,365.7 565.5,361.0 568.4,361.9 571.3,363.0 574.1,363.9 577.0,361.4 579.9,358.4 582.8,356.4 585.7,358.1 588.6,359.9 591.5,361.4 594.3,362.8 597.2,361.4 600.1,360.0 603.0,363.9 605.9,367.3 608.8,362.8 611.6,366.3 614.5,368.8 617.4,365.8 620.3,358.0 623.2,349.7 626.1,309.1 649.2,280.5" class="dash" />
<polyline points="418.4,417.1 421.2,415.7 424.1,414.3 427.0,413.7 429.9,413.7 432.8,414.6 435.7,414.0 438.5,412.4 441.4,412.6 444.3,416.2 447.2,415.1 450.1,415.7 453.0,417.3 455.9,415.9 458.7,414.0 461.6,411.3 464.5,413.7 467.4,414.0 470.3,412.9 473.2,411.8 476.1,412.4 478.9,411.3 481.8,410.0 484.7,411.1 487.6,410.7 490.5,411.1 493.4,412.7 496.2,414.3 499.1,415.8 502.0,416.9 504.9,417.4 507.8,416.5 510.7,414.9 513.6,414.0 516.4,413.8 519.3,413.8 522.2,414.3 525.1,414.9 528.0,414.3 530.9,416.0 533.8,417.1 536.6,417.6 539.5,417.6 542.4,417.1 545.3,416.9 548.2,415.8 551.1,415.7 553.9,415.3 559.7,414.5 562.6,413.9 565.5,412.6 574.1,414.8 582.8,412.8 587.1,414.2 591.5,415.9 595.8,417.4 600.1,417.2 605.9,420.1 608.8,418.9 614.5,421.8 618.9,421.1 623.2,419.2 626.1,414.0 639.6,411.6 649.2,410.3" class="dash" />
<polyline points="418.4,396.3 421.2,404.5 424.1,402.5 427.0,403.4 429.9,404.7 432.8,407.8 435.7,406.7 438.5,404.5 441.4,404.7 444.3,410.4 447.2,408.9 450.1,408.9 453.0,411.1 455.9,409.3 458.7,407.4 461.6,402.7 464.5,405.3 467.4,406.0 470.3,404.7 473.2,402.5 476.1,404.5 478.9,401.4 481.8,399.0 484.7,401.3 487.6,400.1 490.5,400.1 493.4,402.3 496.2,405.0 499.1,406.1 502.0,407.6 504.9,408.9 507.8,407.2 510.7,404.5 513.6,402.8 516.4,402.3 519.3,401.8 522.2,403.1 525.1,403.4 528.0,401.0 530.9,403.4 533.8,405.6 536.6,406.4 545.3,404.5 548.2,402.0 551.1,402.1 553.9,401.4 559.7,399.2 562.6,398.1 565.5,394.8 574.1,398.4 582.8,394.2 591.5,398.6 594.3,401.0 600.1,399.6 605.9,404.9 608.8,403.0 614.5,407.4 617.4,406.2 623.2,400.4 626.1,386.1 649.2,375.6" class="ctr" />
<circle cx="418.4" cy="396.3" r="1.65" fill="#000"/>
<circle cx="421.2" cy="404.5" r="1.65" fill="#000"/>
<circle cx="424.1" cy="402.5" r="1.65" fill="#000"/>
<circle cx="427.0" cy="403.4" r="1.65" fill="#000"/>
<circle cx="429.9" cy="404.7" r="1.65" fill="#000"/>
<circle cx="432.8" cy="407.8" r="1.65" fill="#000"/>
<circle cx="435.7" cy="406.7" r="1.65" fill="#000"/>
<circle cx="438.5" cy="404.5" r="1.65" fill="#000"/>
<circle cx="441.4" cy="404.7" r="1.65" fill="#000"/>
<circle cx="444.3" cy="410.4" r="1.65" fill="#000"/>
<circle cx="447.2" cy="408.9" r="1.65" fill="#000"/>
<circle cx="450.1" cy="408.9" r="1.65" fill="#000"/>
<circle cx="453.0" cy="411.1" r="1.65" fill="#000"/>
<circle cx="455.9" cy="409.3" r="1.65" fill="#000"/>
<circle cx="458.7" cy="407.4" r="1.65" fill="#000"/>
<circle cx="461.6" cy="402.7" r="1.65" fill="#000"/>
<circle cx="464.5" cy="405.3" r="1.65" fill="#000"/>
<circle cx="467.4" cy="406.0" r="1.65" fill="#000"/>
<circle cx="470.3" cy="404.7" r="1.65" fill="#000"/>
<circle cx="473.2" cy="402.5" r="1.65" fill="#000"/>
<circle cx="476.1" cy="404.5" r="1.65" fill="#000"/>
<circle cx="478.9" cy="401.4" r="1.65" fill="#000"/>
<circle cx="481.8" cy="399.0" r="1.65" fill="#000"/>
<circle cx="484.7" cy="401.3" r="1.65" fill="#000"/>
<circle cx="487.6" cy="400.1" r="1.65" fill="#000"/>
<circle cx="490.5" cy="400.1" r="1.65" fill="#000"/>
<circle cx="493.4" cy="402.3" r="1.65" fill="#000"/>
<circle cx="496.2" cy="405.0" r="1.65" fill="#000"/>
<circle cx="499.1" cy="406.1" r="1.65" fill="#000"/>
<circle cx="502.0" cy="407.6" r="1.65" fill="#000"/>
<circle cx="504.9" cy="408.9" r="1.65" fill="#000"/>
<circle cx="507.8" cy="407.2" r="1.65" fill="#000"/>
<circle cx="510.7" cy="404.5" r="1.65" fill="#000"/>
<circle cx="513.6" cy="402.8" r="1.65" fill="#000"/>
<circle cx="516.4" cy="402.3" r="1.65" fill="#000"/>
<circle cx="519.3" cy="401.8" r="1.65" fill="#000"/>
<circle cx="522.2" cy="403.1" r="1.65" fill="#000"/>
<circle cx="525.1" cy="403.4" r="1.65" fill="#000"/>
<circle cx="528.0" cy="401.0" r="1.65" fill="#000"/>
<circle cx="530.9" cy="403.4" r="1.65" fill="#000"/>
<circle cx="533.8" cy="405.6" r="1.65" fill="#000"/>
<circle cx="536.6" cy="406.4" r="1.65" fill="#000"/>
<circle cx="545.3" cy="404.5" r="1.65" fill="#000"/>
<circle cx="548.2" cy="402.0" r="1.65" fill="#000"/>
<circle cx="551.1" cy="402.1" r="1.65" fill="#000"/>
<circle cx="553.9" cy="401.4" r="1.65" fill="#000"/>
<circle cx="559.7" cy="399.2" r="1.65" fill="#000"/>
<circle cx="562.6" cy="398.1" r="1.65" fill="#000"/>
<circle cx="565.5" cy="394.8" r="1.65" fill="#000"/>
<circle cx="574.1" cy="398.4" r="1.65" fill="#000"/>
<circle cx="582.8" cy="394.2" r="1.65" fill="#000"/>
<circle cx="591.5" cy="398.6" r="1.65" fill="#000"/>
<circle cx="594.3" cy="401.0" r="1.65" fill="#000"/>
<circle cx="600.1" cy="399.6" r="1.65" fill="#000"/>
<circle cx="605.9" cy="404.9" r="1.65" fill="#000"/>
<circle cx="608.8" cy="403.0" r="1.65" fill="#000"/>
<circle cx="614.5" cy="407.4" r="1.65" fill="#000"/>
<circle cx="617.4" cy="406.2" r="1.65" fill="#000"/>
<circle cx="623.2" cy="400.4" r="1.65" fill="#000"/>
<circle cx="626.1" cy="386.1" r="1.65" fill="#000"/>
<circle cx="649.2" cy="375.6" r="1.65" fill="#000"/>
<line x1="649.6" y1="286.8" x2="649.6" y2="406.0" stroke="#555" stroke-width="1.1"/>
<polygon points="649.6,282.8 646.9,288.40000000000003 652.3000000000001,288.40000000000003" fill="#555"/>
<polygon points="649.6,410.0 646.9,405.4 652.3000000000001,405.4" fill="#555"/>
<text transform="translate(651.60 332.90) rotate(0.03)" class="ci" textLength="29.2" lengthAdjust="spacingAndGlyphs">95%CI</text>
</svg>
</body></html>
